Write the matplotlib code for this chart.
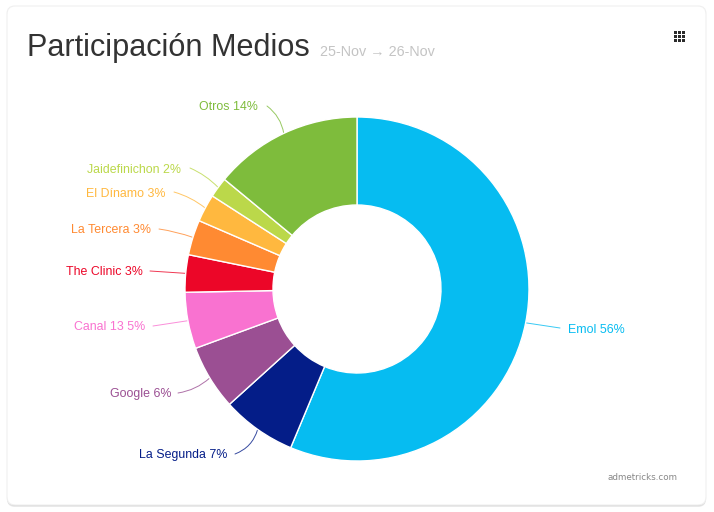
import math
import matplotlib
matplotlib.use("Agg")
import matplotlib.pyplot as plt
from matplotlib.patches import FancyBboxPatch, Rectangle

# Data
media = ["Emol", "La Segunda", "Google", "Canal 13", "The Clinic",
         "La Tercera", "El Dínamo", "Jaidefinichon", "Otros"]
shares = [56.3, 7.0, 6.1, 5.3, 3.5, 3.3, 2.6, 1.9, 14.0]
shown_pct = [56, 7, 6, 5, 3, 3, 3, 2, 14]
colors = ["#06BCF1", "#041D88", "#9B4F93", "#F972D0", "#EC0628",
          "#FF8A32", "#FFB83F", "#BBD84A", "#7EBC3C"]

# Layout (pixels, y down): label anchor points, alignment, curve bend
W, H = 714, 512
label_xy = [(568, 330), (227, 455), (171, 394), (145, 327), (143, 272),
            (151, 230), (166, 194), (181, 170), (258, 107)]
label_ha = ["left"] + ["right"] * 8
line_end = [(560, 328), (235, 454), (178, 393), (153, 326), (150, 271),
            (159, 229), (174, 192), (190, 168), (267, 106)]
bend = [0.0, 0.25, 0.15, 0.0, 0.0, -0.05, -0.1, -0.1, -0.2]

CX, CY, R = 357, 289, 172
HOLE = 84

plt.rcParams["font.family"] = ["Liberation Sans", "DejaVu Sans"]
fig = plt.figure(figsize=(W / 100, H / 100), dpi=100, facecolor="white")
ax = fig.add_axes([0, 0, 1, 1])


def py(y):
    return H - y


# Card with soft shadow
for off, col in [(2.0, "#e9e9e9"), (1.0, "#d4d4d4")]:
    ax.add_patch(FancyBboxPatch((7 + 8, py(505 + off) + 8), 699 - 16, 499 - 16,
                                boxstyle="round,pad=8,rounding_size=8",
                                fc=col, ec="none", zorder=0))
ax.add_patch(FancyBboxPatch((7 + 8, py(505) + 8), 699 - 16, 499 - 16,
                            boxstyle="round,pad=8,rounding_size=8",
                            fc="white", ec="#efefef", lw=0.8, zorder=1))

wedges, _ = ax.pie(shares, colors=colors, startangle=90, counterclock=False,
                   center=(CX, py(CY)), radius=R, frame=True,
                   wedgeprops=dict(width=R - HOLE, edgecolor="white", linewidth=1.0, zorder=3))

ax.set_xlim(0, W)
ax.set_ylim(0, H)
ax.set_aspect("auto")
ax.axis("off")

for i, w in enumerate(wedges):
    mid = math.radians((w.theta1 + w.theta2) / 2)
    start = (CX + R * math.cos(mid), py(CY) + R * math.sin(mid))
    end = line_end[i]
    ax.annotate("", xy=start, xytext=(end[0], py(end[1])),
                arrowprops=dict(arrowstyle="-", color=colors[i], lw=0.7, alpha=0.8,
                                shrinkA=0, shrinkB=0,
                                connectionstyle=f"arc3,rad={bend[i]}"), zorder=2)
    lx, ly = label_xy[i]
    ax.text(lx, py(ly), f"{media[i]} {shown_pct[i]}%", color=colors[i],
            fontsize=8.9, ha=label_ha[i], va="center", zorder=4)

ax.text(27, py(48), "Participación Medios", fontsize=22.05, color="#333333",
        ha="left", va="center", zorder=4)
ax.text(320, py(52), "25-Nov → 26-Nov", fontsize=10.4, color="#c4c4c4",
        ha="left", va="center", zorder=4)
ax.text(677, py(478), "admetricks.com", fontsize=6.3, color="#888888",
        family="DejaVu Sans", ha="right", va="center", zorder=4)

# Menu icon
for r in range(3):
    for c in range(3):
        ax.add_patch(Rectangle((673.5 + c * 4, py(31 + r * 4) - 3.3), 3.3, 3.3,
                               fc="#2b2b2b", ec="none", zorder=4))

fig.savefig("out.png", dpi=100, facecolor="white")
